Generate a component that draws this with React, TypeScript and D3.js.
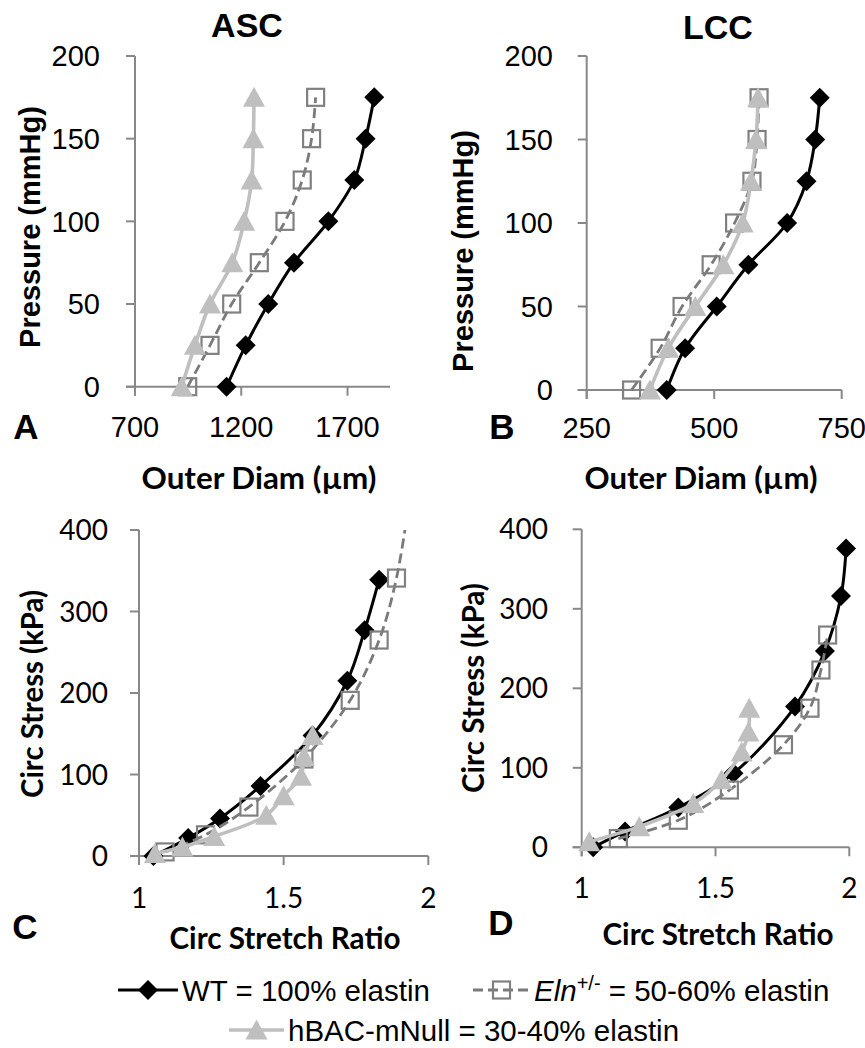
import React from 'react';
import * as d3 from 'd3';

// ---------- data ----------
const pressures = [0, 25, 50, 75, 100, 125, 150, 175];

// ASC pressure-diameter (outer diameter, µm)
const ascDiamWT = [1131, 1221, 1327, 1448, 1610, 1732, 1785, 1826];
const ascDiamEln = [948, 1053, 1155, 1285, 1406, 1487, 1531, 1550];
const ascDiamHbac = [920, 982, 1053, 1158, 1214, 1249, 1257, 1260];

// LCC pressure-diameter
const lccDiamWT = [407, 443, 505, 567, 643, 681, 698, 707];
const lccDiamEln = [338, 394, 437, 494, 540, 574, 584, 588];
const lccDiamHbac = [374, 410, 463, 518, 556, 572, 582, 586];

// ASC stress-stretch
const ascStretchWT = [1.05, 1.17, 1.28, 1.42, 1.6, 1.72, 1.78, 1.83];
const ascStressWT = [0, 22, 46, 86, 148, 215, 277, 339];
const ascStretchEln = [1.09, 1.23, 1.38, 1.57, 1.73, 1.83, 1.89, 1.94];
const ascStressEln = [5, 26, 60, 119, 191, 265, 341, 450];
const ascStretchHbac = [1.055, 1.15, 1.26, 1.44, 1.5, 1.56, 1.57, 1.6];
const ascStressHbac = [3, 11, 24, 50, 74, 98, 122, 148];

// LCC stress-stretch
const lccStretchWT = [1.043, 1.162, 1.361, 1.567, 1.797, 1.909, 1.969, 1.988];
const lccStressWT = [0, 20, 50, 93, 177, 247, 316, 376];
const lccStretchEln = [1.137, 1.361, 1.552, 1.754, 1.853, 1.894, 1.919];
const lccStressEln = [11, 34, 72, 129, 175, 223, 267];
const lccStretchHbac = [1.028, 1.215, 1.417, 1.523, 1.598, 1.623, 1.626];
const lccStressHbac = [7, 26, 55, 85, 120, 145, 175];

const pressureTicks = [0, 50, 100, 150, 200];
const ascDiamTicks = [700, 1200, 1700];
const lccDiamTicks = [250, 500, 750];
const stressTicks = [0, 100, 200, 300, 400];
const stretchTicks = [1, 1.5, 2];

const legendLabels = {
  wt: 'WT = 100% elastin',
  elnItalic: 'Eln',
  elnSup: '+/-',
  elnRest: ' = 50-60% elastin',
  hbac: 'hBAC-mNull = 30-40% elastin',
};

// ---------- styles ----------
const ARIAL = "'Liberation Sans', Arial, sans-serif";
const CAL = "Lato, 'Open Sans', sans-serif";
const AXIS = '#888888';

type Kind = 'wt' | 'eln' | 'hbac';
const LINE: Record<Kind, { stroke: string; width: number; dash?: string }> = {
  wt: { stroke: '#000000', width: 3 },
  eln: { stroke: '#7a7a7a', width: 2.8, dash: '10,5' },
  hbac: { stroke: '#bfbfbf', width: 3.6 },
};

function Marker({ kind, x, y }: { kind: Kind; x: number; y: number }) {
  if (kind === 'wt')
    return <path d={`M${x},${y - 10}L${x + 10},${y}L${x},${y + 10}L${x - 10},${y}Z`} fill="#000" />;
  if (kind === 'eln')
    return (
      <rect x={x - 8.5} y={y - 8.5} width={17} height={17} fill="none" stroke="#808080" strokeWidth={2.2} />
    );
  return <path d={`M${x},${y - 10.5}L${x + 11},${y + 9.5}L${x - 11},${y + 9.5}Z`} fill="#bfbfbf" />;
}

type Series = { kind: Kind; xs: number[]; ys: number[] };

type PanelCfg = {
  id: string;
  xDomain: [number, number];
  xRange: [number, number];
  yDomain: [number, number];
  yRange: [number, number];
  xTicks: number[];
  yTicks: number[];
  tickFont: string;
  tickSize: number;
  yLabelRight: number;
  xLabelY: number;
  series: Series[];
  title?: { text: string; x: number; y: number };
  letter: { text: string; x: number; y: number };
  yTitle: { text: string; x: number; y: number; font: string; size: number; len?: number };
  xTitle: { text: string; x: number; y: number; len: number };
};

function Panel({ cfg }: { cfg: PanelCfg }) {
  const xs = d3.scaleLinear().domain(cfg.xDomain).range(cfg.xRange);
  const ys = d3.scaleLinear().domain(cfg.yDomain).range(cfg.yRange);
  const x0 = cfg.xRange[0];
  const x1 = cfg.xRange[1];
  const yb = cfg.yRange[0];
  const yt = cfg.yRange[1];
  const line = d3
    .line<[number, number]>()
    .x((d) => xs(d[0]))
    .y((d) => ys(d[1]))
    .curve(d3.curveCatmullRom.alpha(0.5));
  const clipId = `clip-${cfg.id}`;
  return (
    <g>
      <defs>
        <clipPath id={clipId}>
          <rect x={0} y={yt} width={865} height={yb - yt + 40} />
        </clipPath>
      </defs>
      {/* axes */}
      <line x1={x0} y1={yt} x2={x0} y2={yb + 9} stroke={AXIS} strokeWidth={2} />
      <line x1={x0 - 9} y1={yb} x2={x1} y2={yb} stroke={AXIS} strokeWidth={2} />
      {cfg.yTicks.map((t) => (
        <line key={'yt' + t} x1={x0 - 9} x2={x0} y1={ys(t)} y2={ys(t)} stroke={AXIS} strokeWidth={2} />
      ))}
      {cfg.xTicks.map((t) => (
        <line key={'xt' + t} x1={xs(t)} x2={xs(t)} y1={yb} y2={yb + 9} stroke={AXIS} strokeWidth={2} />
      ))}
      {cfg.yTicks.map((t) => (
        <text
          key={'yl' + t}
          x={cfg.yLabelRight}
          y={ys(t)}
          dy="0.36em"
          textAnchor="end"
          fontFamily={cfg.tickFont}
          fontSize={cfg.tickSize}
          fill="#000"
        >
          {t}
        </text>
      ))}
      {cfg.xTicks.map((t) => (
        <text
          key={'xl' + t}
          x={xs(t)}
          y={cfg.xLabelY}
          dy="0.36em"
          textAnchor="middle"
          fontFamily={cfg.tickFont}
          fontSize={cfg.tickSize}
          fill="#000"
        >
          {t}
        </text>
      ))}
      {/* series */}
      {cfg.series.map((s) => {
        const pts = s.xs.map((v, i) => [v, s.ys[i]] as [number, number]);
        const st = LINE[s.kind];
        return (
          <g key={s.kind}>
            <path
              d={line(pts) || ''}
              fill="none"
              stroke={st.stroke}
              strokeWidth={st.width}
              strokeDasharray={st.dash}
              clipPath={`url(#${clipId})`}
            />
            {pts
              .filter((p) => p[1] <= cfg.yDomain[1] && p[0] <= cfg.xDomain[1])
              .map((p, i) => (
                <Marker key={i} kind={s.kind} x={xs(p[0])} y={ys(p[1])} />
              ))}
          </g>
        );
      })}
      {/* texts */}
      {cfg.title && (
        <text
          x={cfg.title.x}
          y={cfg.title.y}
          dy="0.36em"
          textAnchor="middle"
          fontFamily={ARIAL}
          fontWeight="bold"
          fontSize={34}
        >
          {cfg.title.text}
        </text>
      )}
      <text
        x={cfg.letter.x}
        y={cfg.letter.y}
        dy="0.36em"
        textAnchor="middle"
        fontFamily={ARIAL}
        fontWeight="bold"
        fontSize={35}
      >
        {cfg.letter.text}
      </text>
      <text
        transform={`translate(${cfg.yTitle.x},${cfg.yTitle.y}) rotate(-90)`}
        dy="0.36em"
        textAnchor="middle"
        fontFamily={cfg.yTitle.font}
        fontWeight="bold"
        fontSize={cfg.yTitle.size}
        textLength={cfg.yTitle.len}
        lengthAdjust={cfg.yTitle.len ? 'spacingAndGlyphs' : undefined}
      >
        {cfg.yTitle.text}
      </text>
      <text
        x={cfg.xTitle.x}
        y={cfg.xTitle.y}
        dy="0.36em"
        textAnchor="middle"
        fontFamily={CAL}
        fontWeight="bold"
        fontSize={30}
        textLength={cfg.xTitle.len}
        lengthAdjust="spacingAndGlyphs"
      >
        {cfg.xTitle.text}
      </text>
    </g>
  );
}

const panels: PanelCfg[] = [
  {
    id: 'A',
    xDomain: [700, 1900],
    xRange: [135, 390],
    yDomain: [0, 200],
    yRange: [386.7, 56],
    xTicks: ascDiamTicks,
    yTicks: pressureTicks,
    tickFont: ARIAL,
    tickSize: 29,
    yLabelRight: 100,
    xLabelY: 427,
    series: [
      { kind: 'wt', xs: ascDiamWT, ys: pressures },
      { kind: 'eln', xs: ascDiamEln, ys: pressures },
      { kind: 'hbac', xs: ascDiamHbac, ys: pressures },
    ],
    title: { text: 'ASC', x: 247, y: 25 },
    letter: { text: 'A', x: 26, y: 426 },
    yTitle: { text: 'Pressure (mmHg)', x: 30, y: 227, font: ARIAL, size: 29 },
    xTitle: { text: 'Outer Diam (µm)', x: 259, y: 478, len: 235 },
  },
  {
    id: 'B',
    xDomain: [250, 750],
    xRange: [586.7, 841.7],
    yDomain: [0, 200],
    yRange: [390, 56],
    xTicks: lccDiamTicks,
    yTicks: pressureTicks,
    tickFont: ARIAL,
    tickSize: 29,
    yLabelRight: 553,
    xLabelY: 428,
    series: [
      { kind: 'wt', xs: lccDiamWT, ys: pressures },
      { kind: 'eln', xs: lccDiamEln, ys: pressures },
      { kind: 'hbac', xs: lccDiamHbac, ys: pressures },
    ],
    title: { text: 'LCC', x: 718, y: 27 },
    letter: { text: 'B', x: 502, y: 426 },
    yTitle: { text: 'Pressure (mmHg)', x: 463, y: 251, font: ARIAL, size: 29 },
    xTitle: { text: 'Outer Diam (µm)', x: 701, y: 478, len: 233 },
  },
  {
    id: 'C',
    xDomain: [1, 2],
    xRange: [139, 428.3],
    yDomain: [0, 400],
    yRange: [856, 530],
    xTicks: stretchTicks,
    yTicks: stressTicks,
    tickFont: CAL,
    tickSize: 28,
    yLabelRight: 108,
    xLabelY: 898,
    series: [
      { kind: 'wt', xs: ascStretchWT, ys: ascStressWT },
      { kind: 'eln', xs: ascStretchEln, ys: ascStressEln },
      { kind: 'hbac', xs: ascStretchHbac, ys: ascStressHbac },
    ],
    letter: { text: 'C', x: 25, y: 926 },
    yTitle: { text: 'Circ Stress (kPa)', x: 32, y: 694, font: CAL, size: 30, len: 208 },
    xTitle: { text: 'Circ Stretch Ratio', x: 285, y: 938, len: 231 },
  },
  {
    id: 'D',
    xDomain: [1, 2],
    xRange: [581.7, 849.3],
    yDomain: [0, 400],
    yRange: [847.3, 529.3],
    xTicks: stretchTicks,
    yTicks: stressTicks,
    tickFont: CAL,
    tickSize: 28,
    yLabelRight: 548,
    xLabelY: 888,
    series: [
      { kind: 'wt', xs: lccStretchWT, ys: lccStressWT },
      { kind: 'eln', xs: lccStretchEln, ys: lccStressEln },
      { kind: 'hbac', xs: lccStretchHbac, ys: lccStressHbac },
    ],
    letter: { text: 'D', x: 501, y: 922 },
    yTitle: { text: 'Circ Stress (kPa)', x: 473, y: 688, font: CAL, size: 30, len: 210 },
    xTitle: { text: 'Circ Stretch Ratio', x: 718, y: 934, len: 231 },
  },
];

function LegendItem({ kind, x1, x2, y }: { kind: Kind; x1: number; x2: number; y: number }) {
  const st = LINE[kind];
  return (
    <g>
      <line x1={x1} x2={x2} y1={y} y2={y} stroke={st.stroke} strokeWidth={st.width} strokeDasharray={st.dash} />
      <Marker kind={kind} x={(x1 + x2) / 2} y={y} />
    </g>
  );
}

export default function App() {
  const l1 = 990;
  const l2 = 1030;
  return (
    <svg
      width={865}
      height={1048}
      style={{ position: 'absolute', left: 0, top: 0, background: '#fff' }}
      xmlns="http://www.w3.org/2000/svg"
    >
      <rect x={0} y={0} width={865} height={1048} fill="#fff" />
      {panels.map((p) => (
        <Panel key={p.id} cfg={p} />
      ))}
      {/* legend */}
      <LegendItem kind="wt" x1={118} x2={178} y={l1} />
      <text x={182} y={l1} dy="0.36em" fontFamily={ARIAL} fontSize={29.5}>
        {legendLabels.wt}
      </text>
      <LegendItem kind="eln" x1={473} x2={530} y={l1} />
      <text x={534} y={l1} dy="0.36em" fontFamily={ARIAL} fontSize={29.5}>
        <tspan fontStyle="italic">{legendLabels.elnItalic}</tspan>
        <tspan fontSize={20} dy={-11}>
          {legendLabels.elnSup}
        </tspan>
        <tspan dy={11}>{legendLabels.elnRest}</tspan>
      </text>
      <LegendItem kind="hbac" x1={229} x2={284} y={l2} />
      <text x={288} y={l2} dy="0.36em" fontFamily={ARIAL} fontSize={29.5}>
        {legendLabels.hbac}
      </text>
    </svg>
  );
}
